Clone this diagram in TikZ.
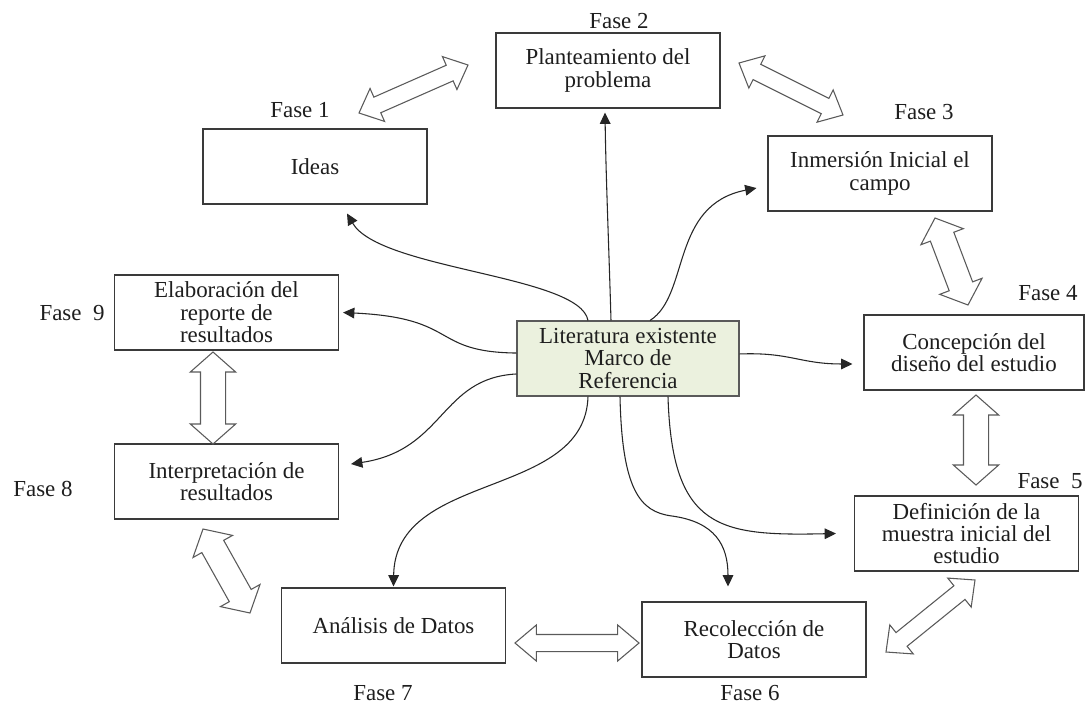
\documentclass[tikz,border=0pt]{standalone}
\usepackage{fontspec}
\setmainfont{Liberation Serif}
\usetikzlibrary{calc,arrows.meta}
\definecolor{litfill}{HTML}{EBF1DE}
\definecolor{boxline}{HTML}{3A3A3A}
\definecolor{connc}{HTML}{262626}
\definecolor{hollc}{HTML}{5A5A5A}
\definecolor{txt}{HTML}{1E1E1E}
\newcommand{\hollowarrow}[5]{%
\draw[hollow] (#1) -- ($(#1)!#5!(#2)!#3!90:(#2)$) -- ($(#1)!#5!(#2)!#4!90:(#2)$)
 -- ($(#2)!#5!(#1)!#4!-90:(#1)$) -- ($(#2)!#5!(#1)!#3!-90:(#1)$) -- (#2)
 -- ($(#2)!#5!(#1)!#3!90:(#1)$) -- ($(#2)!#5!(#1)!#4!90:(#1)$)
 -- ($(#1)!#5!(#2)!#4!-90:(#2)$) -- ($(#1)!#5!(#2)!#3!-90:(#2)$) -- cycle;}
\begin{document}
\begin{tikzpicture}[x=0.75pt,y=-0.75pt,
  txtfont/.style={font=\fontsize{17.2pt}{16.8pt}\selectfont},
  box/.style={draw=boxline, line width=0.8pt, minimum width=168pt, minimum height=56.25pt,
    inner sep=0pt, align=center, text=txt, txtfont},
  lbl/.style={text=txt, txtfont, inner sep=0pt},
  conn/.style={draw=connc, line width=0.8pt, -{Triangle[length=8.5pt,width=8pt]}},
  hollow/.style={draw=hollc, line width=0.8pt, fill=white, line join=miter},
  small/.style={}, ]
\fill[white] (0,0) rectangle (1086,704);
\useasboundingbox (0,0) rectangle (1086,704);

% boxes
\node[box] (plan) at (608,70.5) {Planteamiento del\\problema};
\node[box] (ideas) at (315,166.5) {Ideas};
\node[box] (inm) at (880,173.5) {Inmersión Inicial el\\campo};
\node[box, minimum width=165pt] (conc) at (974,352.5) {Concepción del\\diseño del estudio};
\node[box] (defi) at (966.5,533.5) {Definición de la\\muestra inicial del\\estudio};
\node[box] (reco) at (754,639.5) {Recolección de\\Datos};
\node[box] (anal) at (393.5,625.5) {Análisis de Datos};
\node[box] (interp) at (226.5,481.5) {Interpretación de\\resultados};
\node[box] (elab) at (226.5,312.5) {Elaboración del\\reporte de\\resultados};
\node[box, fill=litfill, draw=hollc, minimum width=166.5pt] (lit) at (628,358.5) {Literatura existente\\Marco de\\Referencia};

% labels
\node[lbl] (f1) at (300,110) {Fase 1};
\node[lbl] (f2) at (619,21) {Fase 2};
\node[lbl] (f3) at (924,112) {Fase 3};
\node[lbl] (f4) at (1048,293) {Fase 4};
\node[lbl] (f5) at (1050,481) {Fase~~5};
\node[lbl] (f6) at (750,693) {Fase 6};
\node[lbl] (f7) at (383,693) {Fase 7};
\node[lbl] (f8) at (43,489) {Fase 8};
\node[lbl] (f9) at (72,313) {Fase~~9};

% connectors from central box
\draw[conn] ([xshift=-30pt]lit.north) .. controls (580,275) and (380,270) .. ([xshift=24pt,yshift=-6.75pt]ideas.south);
\draw[conn] ([xshift=-12.75pt]lit.north) .. controls (609,250) and (606,180) .. ([xshift=-2.25pt,yshift=-3pt]plan.south);
\draw[conn] ([xshift=16.5pt]lit.north) .. controls (690,295) and (670,205) .. ([xshift=-8.25pt,yshift=-10.9pt]inm.west);
\draw[conn] ([yshift=3.4pt]lit.east) .. controls (790,352) and (800,364) .. ([xshift=-8.25pt,yshift=-8.6pt]conc.west);
\draw[conn] ([xshift=30pt]lit.south) .. controls (672,530) and (720,536) .. ([xshift=-13.5pt]defi.west);
\draw[conn] ([xshift=-6pt]lit.south) .. controls (622,490) and (640,512) .. (672,516) .. controls (715,522) and (728,545) .. ([xshift=-19.5pt,yshift=11.25pt]reco.north);
\draw[conn] ([xshift=-30pt]lit.south) .. controls (585,500) and (395,470) .. ([yshift=0.75pt]anal.north);
\draw[conn] ([yshift=-11.6pt]lit.west) .. controls (440,378) and (445,450) .. ([xshift=9pt,yshift=13.1pt]interp.east);
\draw[conn] ([yshift=4.1pt]lit.west) .. controls (430,352) and (460,318) .. ([xshift=3pt]elab.east);

% hollow double arrows
\coordinate (a1) at (359,113); \coordinate (a2) at (468,65);
\coordinate (b1) at (739,63);  \coordinate (b2) at (843,115);
\coordinate (c1) at (935,218); \coordinate (c2) at (968,305);
\coordinate (d1) at (976,395); \coordinate (d2) at (976,485);
\coordinate (e1) at (975,580); \coordinate (e2) at (886,652);
\coordinate (g1) at (639,643); \coordinate (g2) at (515,643);
\coordinate (h1) at (250,613); \coordinate (h2) at (203,529);
\coordinate (k1) at (213,444); \coordinate (k2) at (213,352);
\hollowarrow{a1}{a2}{13.5pt}{6.4pt}{15pt}
\hollowarrow{b1}{b2}{13.5pt}{6.4pt}{15pt}
\hollowarrow{c1}{c2}{17pt}{9.4pt}{15pt}
\hollowarrow{d1}{d2}{17pt}{9.4pt}{15pt}
\hollowarrow{e1}{e2}{14pt}{6.6pt}{15pt}
\hollowarrow{g1}{g2}{13.5pt}{6.4pt}{16pt}
\hollowarrow{h1}{h2}{17pt}{9.4pt}{15pt}
\hollowarrow{k1}{k2}{17pt}{9.4pt}{15pt}
\end{tikzpicture}
\end{document}
